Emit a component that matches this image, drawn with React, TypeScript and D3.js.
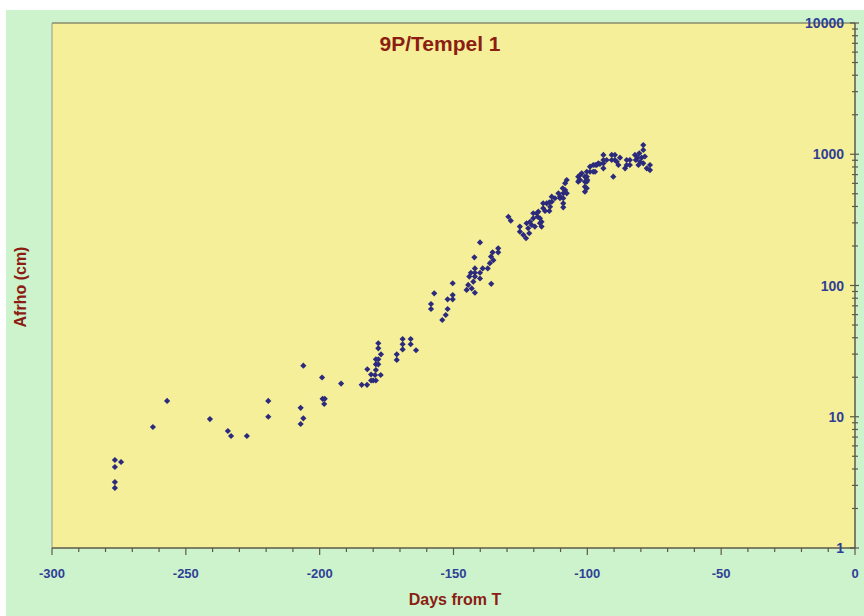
import React from "react";
import * as d3 from "d3";

const days: number[] = [
  -276.5, -274.2, -276.5, -276.5, -276.5, -262.3, -257.0, -241.0, -234.3, -233.1, -227.2,
  -219.2, -219.2, -206.1, -207.1, -206.1, -207.1, -199.1, -198.9, -198.1, -198.3, -192.0,
  -184.3, -182.3, -182.2, -180.8, -180.8, -180.0, -179.0, -179.3, -177.2, -179.0, -179.0,
  -178.1, -179.0, -178.1, -177.1, -178.1, -178.1, -171.2, -171.2, -169.0, -169.0, -169.0,
  -166.0, -166.0, -164.0,
  -158.4, -158.4, -157.2, -154.2, -152.9, -152.2, -152.2, -150.3, -150.3, -150.3, -145.1,
  -144.5, -144.1, -143.5, -143.2, -142.6, -142.2, -142.0, -142.0, -142.0, -142.0, -140.1,
  -140.1, -140.1, -139.1, -137.2, -136.4, -136.0, -135.9, -135.4, -135.1, -133.3, -133.3,
  -129.5, -128.6, -125.2, -125.2, -123.9, -122.9, -122.7, -122.1, -121.7, -121.4, -120.8,
  -120.2, -120.2, -119.6, -118.9, -118.6, -118.3, -117.7, -117.7, -117.1, -117.1, -116.5,
  -116.5, -115.8, -115.2, -114.2, -114.2, -113.9, -113.3, -113.3, -112.1, -110.8, -110.2,
  -110.2, -109.2, -109.0, -109.0, -109.0, -109.0, -108.3, -108.3, -107.7, -107.7,
  -103.4, -103.4, -103.0, -102.7, -102.7, -102.1, -100.9, -100.9, -100.9, -100.9, -100.2,
  -100.2, -100.2, -100.2, -100.0, -99.0, -99.0, -97.8, -97.8, -97.1, -97.1, -96.5, -95.9,
  -95.3, -94.0, -94.0, -94.0, -94.0, -92.8, -90.9, -90.9, -90.3, -89.7, -89.7, -89.0,
  -88.4, -87.8, -85.9, -85.3, -85.3, -84.1, -84.1, -82.2, -81.9, -81.2, -80.9, -80.6,
  -80.3, -79.7, -79.1, -79.1, -79.1, -78.5, -77.8, -76.6, -76.6,
];

const afrho: number[] = [
  4.68, 4.52, 4.14, 3.18, 2.87, 8.35, 13.2, 9.6, 7.79, 7.13, 7.13,
  13.2, 10.0, 24.5, 11.7, 9.73, 8.81, 19.9, 13.7, 13.7, 12.5, 17.9,
  17.5, 17.5, 23.0, 21.0, 18.9, 18.9, 18.9, 20.8, 20.8, 22.7, 25.1,
  25.1, 27.4, 27.4, 29.9, 33.2, 36.3, 29.9, 27.1, 39.1, 35.7, 32.6,
  39.1, 35.7, 32.1,
  72.3, 66.2, 87.2, 54.6, 59.6, 66.2, 78.5, 78.5, 84.7, 104, 92.5,
  101, 117, 125, 95, 107, 164, 135, 125, 117, 88, 213,
  125, 113, 135, 135, 148, 166, 103, 179, 156, 192, 179,
  334, 312, 281, 257, 243, 229, 298, 273, 250, 306, 289,
  325, 355, 281, 355, 334, 365, 298, 325, 281, 306, 388,
  423, 370, 423, 430, 370, 398, 435, 475, 462, 504, 475,
  462, 551, 504, 462, 423, 394, 601, 534, 637, 504,
  675, 618, 637, 695, 637, 716, 675, 618, 566, 519, 736,
  675, 618, 551, 637, 804, 736, 828, 736, 828, 736, 828, 853,
  843, 988, 904, 853, 781, 904, 988, 904, 675, 988, 904, 877,
  828, 942, 781, 904, 828, 904, 828, 988, 904, 942, 828, 1016,
  877, 942, 1175, 1077, 853, 962, 781, 828, 758,
];

const xTickValues: number[] = [-300, -250, -200, -150, -100, -50, 0];
const yTickValues: number[] = [1, 10, 100, 1000, 10000];
const titleText = "9P/Tempel 1";
const xLabel = "Days from T";
const yLabel = "Afrho (cm)";

export default function App() {
  const W = 864;
  const H = 616;
  const left = 52;
  const right = 855;
  const top = 23;
  const bottom = 548;

  const x = d3.scaleLinear().domain([-300, 0]).range([left, right]);
  const y = d3.scaleLog().domain([1, 10000]).range([bottom, top]);

  const minorX = d3.range(-300, 1, 10);
  const minorY: number[] = [];
  for (let e = 0; e < 4; e++) {
    for (let m = 2; m <= 9; m++) minorY.push(m * Math.pow(10, e));
  }

  const marker = d3.symbol().type(d3.symbolSquare).size(19)() as string;

  const font = "'Liberation Sans', Arial, sans-serif";
  const blue = "#2f3f96";
  const red = "#8b1d12";
  const axisCol = "#5a5a4a";

  return (
    <div style={{ position: "absolute", left: 0, top: 0 }}>
      <svg width={W} height={H} style={{ display: "block" }}>
        <rect x={0} y={0} width={W} height={H} fill="#ffffff" />
        <rect x={6} y={10} width={W - 6} height={H - 10} fill="#cdf3cd" />
        <rect x={left} y={top} width={right - left} height={bottom - top} fill="#f6ef99" />
        <line x1={left} y1={top} x2={right} y2={top} stroke={axisCol} strokeWidth={1.2} />
        <line x1={left} y1={top} x2={left} y2={bottom} stroke="#9a9a8a" strokeWidth={1} />
        <line x1={left} y1={bottom} x2={right} y2={bottom} stroke={axisCol} strokeWidth={1.5} />
        <line x1={right} y1={top} x2={right} y2={bottom} stroke={axisCol} strokeWidth={1.5} />

        {minorX.map((v) => (
          <line key={"mx" + v} x1={x(v)} x2={x(v)} y1={bottom} y2={bottom + (v % 50 === 0 ? 7 : 4)} stroke={axisCol} strokeWidth={1.2} />
        ))}
        {xTickValues.map((v) => (
          <text key={"xl" + v} x={x(v)} y={bottom + 30} textAnchor="middle" fontFamily={font} fontWeight="bold" fontSize={13} fill={blue}>
            {String(v)}
          </text>
        ))}

        {minorY.map((v) => (
          <line key={"my" + v} x1={right - 3} x2={right + 3} y1={y(v)} y2={y(v)} stroke={axisCol} strokeWidth={1.2} />
        ))}
        {yTickValues.map((v) => (
          <g key={"yt" + v}>
            <line x1={right - 5} x2={right + 4} y1={y(v)} y2={y(v)} stroke={axisCol} strokeWidth={1.2} />
            <text x={right - 11} y={y(v) + 5} textAnchor="end" fontFamily={font} fontWeight="bold" fontSize={14} fill={blue}>
              {String(v)}
            </text>
          </g>
        ))}

        {days.map((d, i) => (
          <path key={"p" + i} d={marker} transform={`translate(${x(d)},${y(afrho[i])}) rotate(45)`} fill="#2b2a7c" />
        ))}

        <text x={440} y={51} textAnchor="middle" fontFamily={font} fontWeight="bold" fontSize={21} fill={red}>
          {titleText}
        </text>
        <text x={455} y={605} textAnchor="middle" fontFamily={font} fontWeight="bold" fontSize={16} fill={red}>
          {xLabel}
        </text>
        <text transform={`translate(26,287) rotate(-90)`} textAnchor="middle" fontFamily={font} fontWeight="bold" fontSize={16} fill={red}>
          {yLabel}
        </text>
      </svg>
    </div>
  );
}
